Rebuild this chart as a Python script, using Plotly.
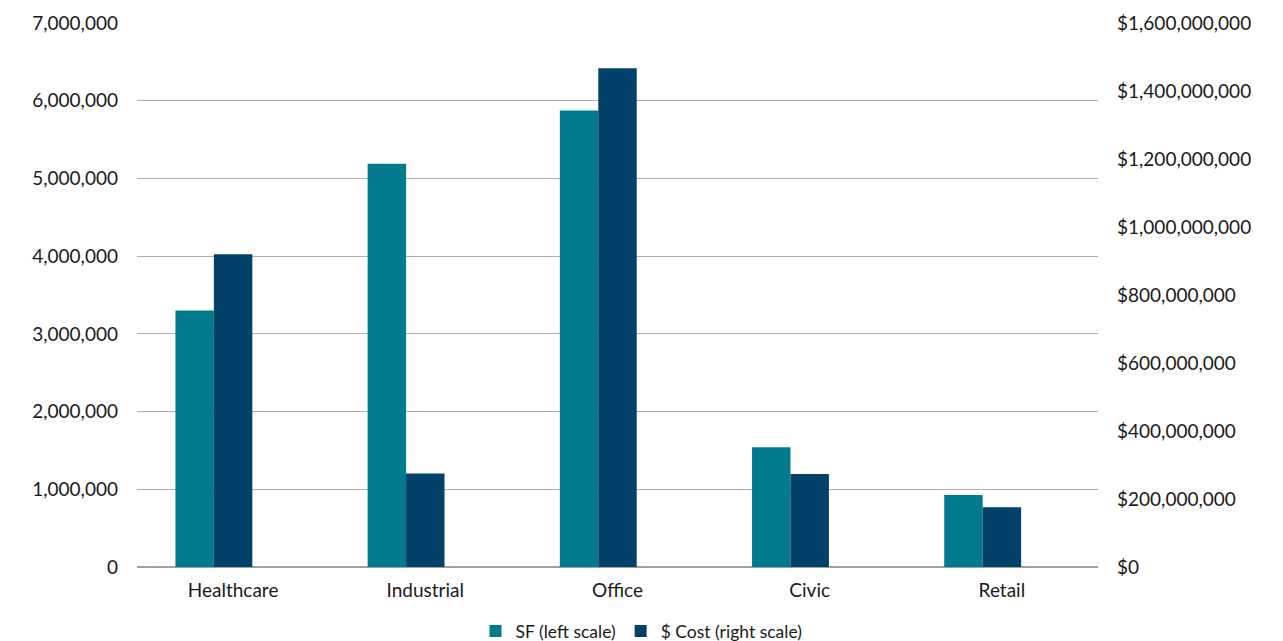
import plotly.graph_objects as go

# Construction volume by sector: square footage and total cost
categories = ["Healthcare", "Industrial", "Office", "Civic", "Retail"]
sf_values = [3300000, 5190000, 5875000, 1540000, 926000]
cost_values = [920000000, 275000000, 1467000000, 273500000, 175500000]

left_ticks = [0, 1000000, 2000000, 3000000, 4000000, 5000000, 6000000, 7000000]
left_labels = ["0", "1,000,000", "2,000,000", "3,000,000", "4,000,000",
               "5,000,000", "6,000,000", "7,000,000"]
right_ticks = [0, 200000000, 400000000, 600000000, 800000000,
               1000000000, 1200000000, 1400000000, 1600000000]
right_labels = ["$0", "$200,000,000", "$400,000,000", "$600,000,000",
                "$800,000,000", "$1,000,000,000", "$1,200,000,000",
                "$1,400,000,000", "$1,600,000,000"]

TEAL = "#017a8e"
NAVY = "#01416a"
FONT = "Lato"
TEXT = "#1a1a1a"

# Each category slot holds three bar widths; the two series sit in the first two
BAR_W = 0.2

fig = go.Figure()
fig.add_trace(go.Bar(
    x=categories, y=sf_values, name="SF (left scale)",
    marker=dict(color=TEAL, line=dict(width=0)),
    width=BAR_W, offset=-1.5 * BAR_W, yaxis="y",
))
fig.add_trace(go.Bar(
    x=categories, y=cost_values, name="$ Cost (right scale)",
    marker=dict(color=NAVY, line=dict(width=0)),
    width=BAR_W, offset=-0.5 * BAR_W, yaxis="y2",
))

fig.update_layout(
    width=1283, height=641,
    margin=dict(l=137, r=185, t=23, b=74, autoexpand=False),
    paper_bgcolor="white", plot_bgcolor="white",
    font=dict(family=FONT, size=19, color=TEXT),
    barmode="overlay",
    showlegend=True,
    legend=dict(
        orientation="h", xref="container", x=0.5, xanchor="center",
        yref="paper", y=-0.118, yanchor="middle",
        font=dict(family=FONT, size=17.5, color=TEXT),
        tracegroupgap=0,
    ),
    xaxis=dict(
        showgrid=False, showline=False, ticks="", tickangle=0,
        ticklabelstandoff=10,
        tickfont=dict(family=FONT, size=19, color=TEXT),
    ),
    yaxis=dict(
        range=[0, 7000000], tickvals=left_ticks, ticktext=left_labels,
        showgrid=True, gridcolor="#aeaeae", gridwidth=1,
        zeroline=True, zerolinecolor="#a0a0a0", zerolinewidth=1.5,
        ticks="", ticklabelstandoff=18,
        tickfont=dict(family=FONT, size=19, color=TEXT),
    ),
    yaxis2=dict(
        range=[0, 1600000000], tickvals=right_ticks, ticktext=right_labels,
        overlaying="y", side="right", showgrid=False, zeroline=False,
        ticks="", ticklabelstandoff=18,
        tickfont=dict(family=FONT, size=19, color=TEXT),
    ),
)

fig.write_html("out.html")
